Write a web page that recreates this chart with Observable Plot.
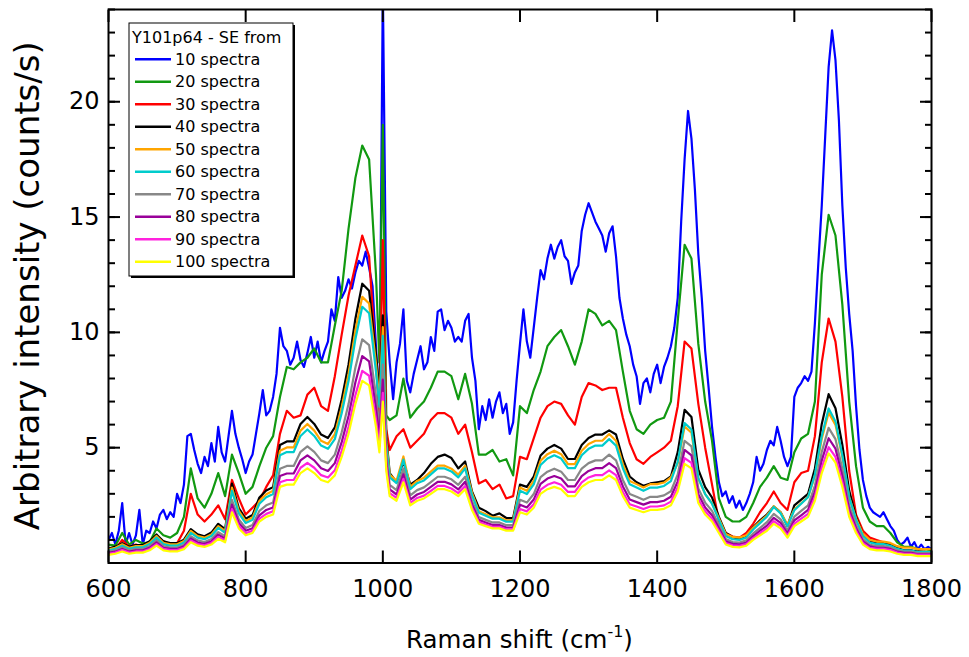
<!DOCTYPE html>
<html>
<head>
<meta charset="utf-8">
<script src="https://cdn.jsdelivr.net/npm/d3@7"></script>
<script src="https://cdn.jsdelivr.net/npm/@observablehq/plot@0.6"></script>
<style>
  html, body { margin: 0; padding: 0; background: #fff; }
  #chart { width: 969px; height: 657px; }
</style>
</head>
<body>
<div id="chart"></div>
<script>
// Raman shift sampling grids (cm^-1)
const shiftFine = d3.range(600, 1801, 5);
const shiftGrid = [...d3.range(600, 1000, 10), 995, 1000, 1005, ...d3.range(1010, 1801, 10)];

const seriesNames = ["10 spectra","20 spectra","30 spectra","40 spectra","50 spectra","60 spectra","70 spectra","80 spectra","90 spectra","100 spectra"];
const seriesColors = ["#0000ff","#119911","#ff0000","#000000","#ffa500","#00cccc","#888888","#990099","#ff22dd","#ffff00"];
const xTicks = [600, 800, 1000, 1200, 1400, 1600, 1800];
const yLabelTicks = [5, 10, 15, 20];
const yMajorTicks = [0, 5, 10, 15, 20];
const yMinorTicks = d3.range(0, 25, 1);
const legendTitle = "Y101p64 - SE from";

// 10 spectra (on shiftFine)
const spectra10 = [
1.0,1.3,0.8,1.4,2.6,0.8,1.3,0.8,1.2,2.3,
0.8,1.4,1.3,1.8,1.5,2.1,2.3,1.9,2.2,2.0,
3.0,2.6,3.4,5.5,5.6,4.9,4.3,3.9,4.6,4.2,
5.2,4.4,5.9,4.8,4.4,5.5,6.6,5.6,5.0,4.5,
3.9,4.4,4.7,5.6,6.5,7.5,6.4,6.6,7.2,8.2,
10.2,9.4,9.2,8.6,8.9,9.6,8.8,8.5,9.1,9.8,
8.9,9.6,8.7,9.2,9.6,11.0,10.5,12.4,11.5,11.8,
12.3,11.9,12.6,13.1,12.9,13.5,12.8,12.0,9.4,6.3,
25,10.9,8.7,7.1,8.7,9.5,11.0,7.9,7.4,8.2,
8.8,9.4,8.4,8.7,9.8,9.2,10.9,11.0,10.1,10.5,
10.2,9.6,9.8,9.6,10.5,10.8,8.9,7.9,5.8,6.8,
6.2,7.1,6.3,7.0,7.4,6.5,6.9,5.6,6.1,7.9,
9.5,11.0,9.6,8.9,10.2,11.5,12.7,12.3,13.2,13.8,
13.2,13.7,14.0,13.3,13.1,12.1,12.6,12.9,14.4,15.1,
15.6,15.2,14.8,14.5,14.2,13.5,14.3,14.6,13.3,11.5,
10.6,9.9,9.4,8.6,8.1,6.9,7.8,8.0,7.4,8.2,
8.6,7.8,8.5,8.9,9.4,10.2,11.5,14.8,17.5,19.6,
18.4,16.2,13.4,11.5,9.2,7.6,5.9,4.6,3.5,2.9,
3.1,2.6,2.9,2.4,2.7,2.3,2.6,3.0,3.5,4.6,
4.0,4.3,4.9,5.3,5.1,5.9,5.3,4.6,4.2,4.6,
7.2,7.6,7.8,8.1,7.9,8.3,10.4,13.0,15.5,18.5,
21.5,23.1,21.8,19.2,15.5,12.8,10.8,9.2,6.8,4.9,
3.6,2.9,2.4,2.2,2.1,2.0,2.2,1.9,1.6,1.4,
1.0,0.8,0.9,1.1,0.7,0.9,0.6,0.8,0.6,0.7,
0.6];

// remaining spectra (on shiftGrid)
const spectra20 = [
0.8,0.75,1.3,0.8,1.0,0.85,0.9,1.5,1.2,1.1,
1.3,2.0,4.1,2.8,2.4,3.0,3.9,2.9,4.7,3.9,
3.0,3.3,4.2,5.0,5.5,7.2,8.5,8.4,8.7,8.9,
9.3,8.7,8.7,10.3,11.8,14.5,16.7,18.1,17.5,12.5,
8.7,19.0,6.4,6.2,6.4,8.0,6.3,6.7,7.0,7.6,
8.3,8.3,8.1,7.1,8.2,6.9,4.7,4.7,4.9,4.4,
4.5,3.8,6.8,6.5,7.5,8.3,9.4,9.8,10.1,9.4,
8.6,9.6,11.0,10.8,10.3,10.5,10.1,8.3,6.6,5.8,
5.6,6.0,6.2,6.3,7.0,10.5,13.8,13.2,9.5,7.0,
5.3,2.8,2.0,1.8,1.8,2.0,2.6,3.3,3.7,4.2,
3.7,3.6,4.8,5.4,5.6,7.0,12.5,15.1,14.2,11.2,
7.0,4.2,2.4,1.8,1.6,1.6,1.3,0.9,0.7,0.7,
0.6,0.6,0.55];

const spectra30 = [
0.6,0.6,1.0,0.7,0.8,0.7,0.7,1.0,0.95,0.8,
0.85,1.4,3.0,2.1,1.8,2.1,2.5,1.9,3.6,2.8,
2.1,2.4,2.7,3.3,3.8,5.6,6.6,6.3,6.4,7.3,
7.6,6.8,6.6,8.1,9.9,11.6,12.9,14.2,13.3,8.7,
6.3,14.0,5.8,4.9,5.5,5.8,5.0,5.3,5.6,6.2,
6.5,6.5,6.3,5.6,6.0,4.8,3.45,3.6,3.2,3.4,
2.8,2.9,4.6,4.5,5.4,6.3,6.8,7.0,6.9,6.4,
6.0,7.2,7.8,7.7,7.5,7.6,7.6,6.3,5.2,4.5,
4.3,4.6,4.8,5.0,5.3,6.8,9.6,9.3,6.9,5.0,
3.4,1.8,1.3,1.15,1.1,1.3,1.7,2.2,2.6,3.1,
2.6,2.3,3.5,3.9,4.0,5.5,8.7,10.6,9.6,7.2,
4.0,2.1,1.4,1.1,1.0,0.9,0.8,0.6,0.5,0.45,
0.45,0.4,0.4];

const spectra40 = [
0.63,0.71,0.86,0.71,0.78,0.78,0.94,1.24,0.94,0.86,
0.86,1.01,1.47,1.24,1.16,1.32,1.7,1.47,3.44,2.38,
1.92,2.08,2.84,3.14,3.29,5.12,5.27,5.27,6.03,6.33,
6.03,5.57,5.42,5.88,7.09,8.61,10.59,12.11,11.8,9.07,
7.4,10.74,5.5,3.9,3.5,4.4,3.4,3.6,3.9,4.3,
4.6,4.7,4.55,4.1,4.4,3.1,2.4,2.25,2.05,2.15,
1.95,1.95,3.4,3.3,3.75,4.66,4.96,5.12,4.96,4.51,
4.51,5.12,5.42,5.57,5.57,5.75,5.57,4.51,3.75,3.5,
3.35,3.45,3.5,3.55,3.75,4.81,6.64,6.33,4.05,3.29,
2.84,2.0,1.3,1.12,1.05,1.15,1.55,1.85,2.1,2.45,
2.2,1.6,2.5,2.75,3.0,4.1,6.03,7.32,6.71,5.12,
3.14,2.0,1.25,0.95,0.85,0.85,0.78,0.65,0.55,0.55,
0.5,0.48,0.45];

const spectra50 = [
0.59,0.66,0.81,0.66,0.73,0.73,0.88,1.17,0.88,0.81,
0.81,0.95,1.39,1.17,1.1,1.24,1.6,1.39,3.27,2.26,
1.82,1.97,2.69,2.98,3.13,4.87,5.01,5.01,5.74,6.03,
5.74,5.3,5.16,5.59,6.75,8.2,10.09,11.54,11.25,8.64,
7.04,10.23,5.28,3.83,3.56,4.62,3.3,3.56,3.7,3.96,
4.22,4.22,4.09,3.83,4.22,3.04,2.24,2.11,1.98,1.98,
1.85,1.85,3.27,3.13,3.56,4.43,4.72,4.87,4.72,4.29,
4.29,4.87,5.16,5.3,5.3,5.59,5.3,4.29,3.56,3.42,
3.27,3.42,3.42,3.49,3.71,4.32,5.92,5.65,3.66,2.99,
2.59,1.93,1.26,1.13,1.1,1.2,1.53,1.8,2.06,2.46,
2.2,1.66,2.33,2.59,2.86,3.79,5.39,6.52,5.99,4.59,
2.86,1.93,1.26,1.0,0.93,0.93,0.87,0.73,0.67,0.67,
0.6,0.6,0.6];

const spectra60 = [
0.54,0.61,0.75,0.61,0.68,0.68,0.82,1.1,0.82,0.75,
0.75,0.89,1.31,1.1,1.03,1.17,1.52,1.31,3.13,2.15,
1.73,1.87,2.57,2.85,2.99,4.67,4.81,4.81,5.51,5.79,
5.51,5.09,4.95,5.37,6.49,7.89,9.71,11.11,10.83,8.31,
6.77,9.85,5.12,3.71,3.46,4.48,3.2,3.46,3.58,3.84,
4.1,4.1,3.97,3.71,4.1,2.94,2.18,2.05,1.92,1.92,
1.79,1.79,3.13,2.99,3.41,4.25,4.53,4.67,4.53,4.11,
4.11,4.67,4.95,5.09,5.09,5.37,5.09,4.11,3.41,3.27,
3.13,3.27,3.27,3.34,3.55,4.39,6.07,5.79,3.69,2.99,
2.57,1.87,1.17,1.03,1.0,1.1,1.45,1.73,2.01,2.43,
2.15,1.59,2.29,2.57,2.85,3.83,5.51,6.7,6.14,4.67,
2.85,1.87,1.17,0.89,0.82,0.82,0.75,0.61,0.54,0.54,
0.47,0.47,0.47];

const spectra70 = [
0.49,0.55,0.67,0.55,0.61,0.61,0.73,0.98,0.73,0.67,
0.67,0.79,1.16,0.98,0.91,1.04,1.34,1.16,2.74,1.89,
1.52,1.65,2.26,2.5,2.62,4.09,4.21,4.21,4.82,5.06,
4.82,4.45,4.33,4.7,5.67,6.89,8.48,9.7,9.45,7.26,
5.92,8.6,4.68,3.39,3.16,4.1,2.93,3.16,3.28,3.51,
3.74,3.74,3.63,3.39,3.74,2.69,1.99,1.87,1.76,1.76,
1.64,1.64,2.74,2.62,2.99,3.72,3.96,4.09,3.96,3.6,
3.6,4.09,4.33,4.45,4.45,4.7,4.45,3.6,2.99,2.87,
2.74,2.87,2.87,2.93,3.11,3.84,5.3,5.06,3.23,2.62,
2.26,1.65,1.04,0.91,0.89,0.98,1.28,1.52,1.77,2.13,
1.89,1.4,2.01,2.26,2.5,3.35,4.82,5.86,5.37,4.09,
2.5,1.65,1.04,0.79,0.73,0.73,0.67,0.55,0.49,0.49,
0.43,0.43,0.43];

const spectra80 = [
0.44,0.49,0.61,0.49,0.55,0.55,0.66,0.89,0.66,0.61,
0.61,0.72,1.06,0.89,0.83,0.94,1.23,1.06,2.53,1.74,
1.4,1.51,2.07,2.3,2.41,3.77,3.88,3.88,4.45,4.67,
4.45,4.11,3.99,4.33,5.24,6.37,7.84,8.97,8.74,6.71,
5.46,7.95,4.4,3.19,2.97,3.85,2.75,2.97,3.08,3.3,
3.52,3.52,3.41,3.19,3.52,2.53,1.87,1.76,1.65,1.65,
1.54,1.54,2.53,2.41,2.75,3.43,3.66,3.77,3.66,3.32,
3.32,3.77,3.99,4.11,4.11,4.33,4.11,3.32,2.75,2.64,
2.53,2.64,2.64,2.7,2.87,3.54,4.9,4.67,2.98,2.41,
2.07,1.51,0.94,0.83,0.81,0.89,1.17,1.4,1.62,1.96,
1.74,1.28,1.85,2.07,2.3,3.09,4.45,5.41,4.96,3.77,
2.3,1.51,0.94,0.72,0.66,0.66,0.61,0.49,0.44,0.44,
0.38,0.38,0.38];

const spectra90 = [
0.4,0.45,0.56,0.45,0.5,0.5,0.61,0.82,0.61,0.56,
0.56,0.66,0.98,0.82,0.77,0.87,1.13,0.98,2.34,1.61,
1.29,1.4,1.92,2.13,2.24,3.5,3.6,3.6,4.13,4.34,
4.13,3.81,3.71,4.02,4.86,5.91,7.28,8.33,8.12,6.23,
5.07,7.38,4.2,3.03,2.82,3.65,2.61,2.82,2.92,3.13,
3.34,3.34,3.23,3.03,3.34,2.4,1.78,1.67,1.57,1.57,
1.46,1.46,2.34,2.24,2.55,3.18,3.39,3.5,3.39,3.08,
3.08,3.5,3.71,3.81,3.81,4.02,3.81,3.08,2.55,2.45,
2.34,2.45,2.45,2.5,2.66,3.29,4.55,4.34,2.76,2.24,
1.92,1.4,0.87,0.77,0.74,0.82,1.08,1.29,1.5,1.82,
1.61,1.19,1.71,1.92,2.13,2.87,4.13,5.02,4.6,3.5,
2.13,1.4,0.87,0.66,0.61,0.61,0.56,0.45,0.4,0.4,
0.35,0.35,0.35];

const spectra100 = [
0.35,0.4,0.5,0.4,0.45,0.45,0.55,0.75,0.55,0.5,
0.5,0.6,0.9,0.75,0.7,0.8,1.05,0.9,2.2,1.5,
1.2,1.3,1.8,2.0,2.1,3.3,3.4,3.4,3.9,4.1,
3.9,3.6,3.5,3.8,4.6,5.6,6.9,7.9,7.7,5.9,
4.8,7.0,4.0,2.9,2.7,3.5,2.5,2.7,2.8,3.0,
3.2,3.2,3.1,2.9,3.2,2.3,1.7,1.6,1.5,1.5,
1.4,1.4,2.2,2.1,2.4,3.0,3.2,3.3,3.2,2.9,
2.9,3.3,3.5,3.6,3.6,3.8,3.6,2.9,2.4,2.3,
2.2,2.3,2.3,2.35,2.5,3.1,4.3,4.1,2.6,2.1,
1.8,1.3,0.8,0.7,0.68,0.75,1.0,1.2,1.4,1.7,
1.5,1.1,1.6,1.8,2.0,2.7,3.9,4.75,4.35,3.3,
2.0,1.3,0.8,0.6,0.55,0.55,0.5,0.4,0.35,0.35,
0.3,0.3,0.3];

const seriesValues = [spectra10, spectra20, spectra30, spectra40, spectra50, spectra60, spectra70, spectra80, spectra90, spectra100];
const seriesShifts = [shiftFine, shiftGrid, shiftGrid, shiftGrid, shiftGrid, shiftGrid, shiftGrid, shiftGrid, shiftGrid, shiftGrid];

const lineMarks = seriesValues.map((vals, k) => {
  const xs = seriesShifts[k];
  const rows = vals.map((v, i) => ({shift: xs[i], value: v}));
  return Plot.line(rows, {x: "shift", y: "value", stroke: seriesColors[k], strokeWidth: 2.2, clip: true});
});

const fmt = d => String(d);

const svg = Plot.plot({
  width: 969,
  height: 657,
  marginLeft: 108,
  marginRight: 38,
  marginTop: 9,
  marginBottom: 94.5,
  style: {fontFamily: "DejaVu Sans", background: "white", color: "black", overflow: "visible"},
  x: {domain: [600, 1800]},
  y: {domain: [0, 24]},
  marks: [
    ...lineMarks,
    // inward ticks
    Plot.axisX({anchor: "bottom", ticks: xTicks, tickSize: 12, dy: -12, tickFormat: () => "", strokeWidth: 2, label: null}),
    Plot.axisX({anchor: "top", ticks: xTicks, tickSize: 12, dy: 12, tickFormat: () => "", strokeWidth: 2, label: null}),
    Plot.axisY({anchor: "left", ticks: yMajorTicks, tickSize: 12, dx: 12, tickFormat: () => "", strokeWidth: 2, label: null}),
    Plot.axisY({anchor: "left", ticks: yMinorTicks, tickSize: 7, dx: 7, tickFormat: () => "", strokeWidth: 2, label: null}),
    Plot.axisY({anchor: "right", ticks: yMajorTicks, tickSize: 12, dx: -12, tickFormat: () => "", strokeWidth: 2, label: null}),
    Plot.axisY({anchor: "right", ticks: yMinorTicks, tickSize: 7, dx: -7, tickFormat: () => "", strokeWidth: 2, label: null}),
    // labels
    Plot.axisX({anchor: "bottom", ticks: xTicks, tickSize: 0, tickPadding: 17, tickFormat: fmt, fontSize: 24, label: null}),
    Plot.axisY({anchor: "left", ticks: yLabelTicks, tickSize: 0, tickPadding: 9, tickFormat: fmt, fontSize: 24, label: null}),
    Plot.frame({stroke: "black", strokeWidth: 2})
  ]
});

const s = d3.select(svg);

// X title with superscript
const xt = s.append("text")
  .attr("x", 519.5).attr("y", 648)
  .attr("text-anchor", "middle")
  .attr("font-family", "DejaVu Sans")
  .attr("font-size", 24.5)
  .attr("fill", "black");
xt.append("tspan").text("Raman shift (cm");
xt.append("tspan").attr("font-size", 16).attr("dy", -11).text("-1");
xt.append("tspan").attr("dy", 11).text(")");

// Y title
s.append("text")
  .attr("transform", "translate(39,285.75) rotate(-90)")
  .attr("text-anchor", "middle")
  .attr("font-family", "DejaVu Sans")
  .attr("font-size", 34)
  .attr("fill", "black")
  .text("Arbitrary intensity (counts/s)");

// Legend
const lg = s.append("g").attr("font-family", "DejaVu Sans").attr("font-size", 16).attr("text-anchor", "start");
lg.append("rect").attr("x", 131).attr("y", 25).attr("width", 164).attr("height", 253).attr("fill", "black");
lg.append("rect").attr("x", 129).attr("y", 23).attr("width", 164).attr("height", 253)
  .attr("fill", "white").attr("stroke", "black").attr("stroke-width", 1);
lg.append("text").attr("x", 132).attr("y", 37).attr("dy", "0.35em").attr("text-anchor", "start").attr("fill", "black").text(legendTitle);
seriesNames.forEach((name, i) => {
  const cy = 59.3 + 22.5 * i;
  lg.append("line").attr("x1", 135).attr("x2", 171).attr("y1", cy).attr("y2", cy)
    .attr("stroke", seriesColors[i]).attr("stroke-width", 2.5);
  lg.append("text").attr("x", 175).attr("y", cy).attr("dy", "0.35em").attr("text-anchor", "start").attr("fill", "black").text(name);
});

document.getElementById("chart").appendChild(svg);
</script>
</body>
</html>
